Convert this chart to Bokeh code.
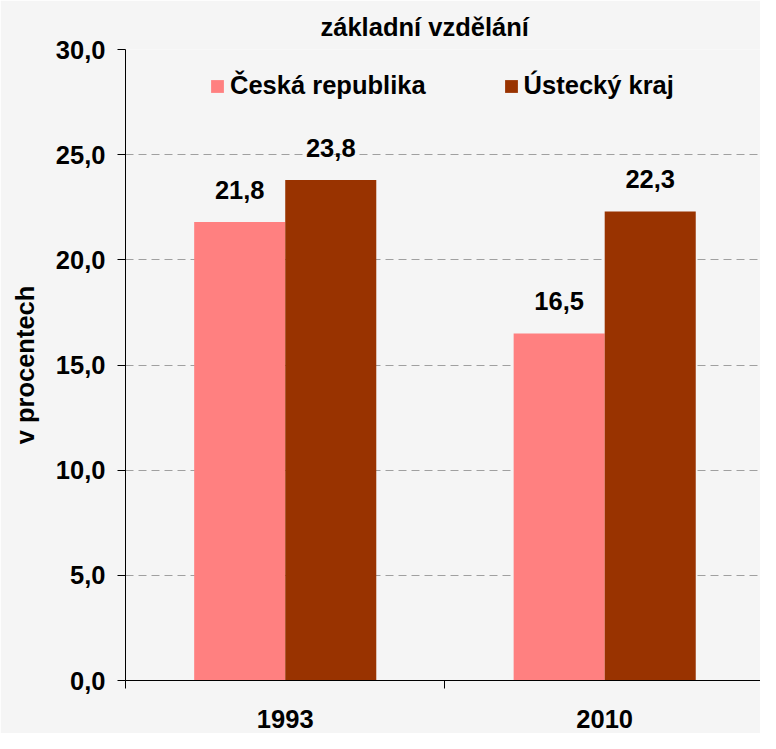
from bokeh.plotting import figure
from bokeh.models import Range1d, FixedTicker, Legend, LegendItem, ColumnDataSource
from bokeh.core.properties import value
from bokeh.embed import file_html
from bokeh.resources import INLINE

# ---- data ----
title_text = "základní vzdělání"
y_axis_title = "v procentech"
years = ["1993", "2010"]
series_names = ["Česká republika", "Ústecký kraj"]
cr_values = [21.8, 16.5]
uk_values = [23.8, 22.3]
y_ticks = [0, 5, 10, 15, 20, 25, 30]
y_tick_labels = ["0,0", "5,0", "10,0", "15,0", "20,0", "25,0", "30,0"]
colors = ["#FF8080", "#993300"]

FONT = "Liberation Sans"
FS = "25.5px"
BG = "#f5f5f5"

bar_w = 0.285
centers = [i + 0.5 for i in range(len(years))]


def fmt(v):
    return f"{v:.1f}".replace(".", ",")


p = figure(width=760, height=733,
           x_range=Range1d(0, 1.9877), y_range=Range1d(0, 30),
           output_backend="svg", toolbar_location=None,
           min_border_left=125, min_border_right=0,
           min_border_top=49, min_border_bottom=53)
p.background_fill_color = BG
p.border_fill_color = BG
p.outline_line_color = None

# title
p.title.text = title_text
p.title.align = "left"
p.title.offset = 195
p.title.standoff = 18
p.title.text_font = FONT
p.title.text_font_style = "bold"
p.title.text_font_size = FS
p.title.text_color = "black"

renderers = []
for k, (vals, col) in enumerate(zip([cr_values, uk_values], colors)):
    shift = (k - 0.5) * bar_w
    src = ColumnDataSource(dict(
        x=[c + shift for c in centers],
        top=vals,
        lab=[fmt(v) for v in vals],
    ))
    r = p.vbar(x="x", top="top", bottom=0, width=bar_w, source=src,
               fill_color=col, line_color=None)
    renderers.append(r)
    p.text(x="x", y="top", text="lab", source=src,
           text_font=value(FONT), text_font_style="bold", text_font_size=FS,
           text_align="center", text_baseline="alphabetic", y_offset=-32,
           text_color="black")

legend = Legend(items=[LegendItem(label=n, renderers=[r]) for n, r in zip(series_names, renderers)],
                orientation="horizontal", location=(84, 580),
                padding=0, margin=0, spacing=77, label_standoff=5,
                glyph_width=16, glyph_height=16,
                label_text_font=FONT, label_text_font_style="bold",
                label_text_font_size=FS, label_text_color="black",
                background_fill_alpha=0, border_line_color=None)
p.add_layout(legend, "center")

# x axis
xa = p.xaxis[0]
xa.ticker = FixedTicker(ticks=centers, minor_ticks=[0, 1, 2])
xa.major_label_overrides = {c: y for c, y in zip(centers, years)}
xa.major_tick_line_color = None
xa.major_tick_out = 0
xa.major_tick_in = 0
xa.minor_tick_line_color = "black"
xa.minor_tick_out = 8
xa.minor_tick_in = 0
xa.major_label_standoff = 21
xa.axis_line_color = "black"
xa.major_label_text_font = FONT
xa.major_label_text_font_style = "bold"
xa.major_label_text_font_size = FS
xa.major_label_text_color = "black"

# y axis
ya = p.yaxis[0]
ya.ticker = FixedTicker(ticks=y_ticks, minor_ticks=[])
ya.major_label_overrides = {t: l for t, l in zip(y_ticks, y_tick_labels)}
ya.major_tick_out = 8
ya.major_tick_in = 0
ya.major_tick_line_color = "black"
ya.minor_tick_line_color = None
ya.major_label_standoff = 12
ya.axis_line_color = "black"
ya.major_label_text_font = FONT
ya.major_label_text_font_style = "bold"
ya.major_label_text_font_size = FS
ya.major_label_text_color = "black"
ya.axis_label = y_axis_title
ya.axis_label_text_font = FONT
ya.axis_label_text_font_style = "bold"
ya.axis_label_text_font_size = FS
ya.axis_label_text_color = "black"
ya.axis_label_standoff = 14

p.xgrid.grid_line_color = None
p.ygrid.ticker = FixedTicker(ticks=y_ticks)
p.ygrid.grid_line_color = "#a0a0a0"
p.ygrid.grid_line_dash = "8 5"
p.ygrid.grid_line_width = 1

open("out.html", "w").write(file_html(p, INLINE))
